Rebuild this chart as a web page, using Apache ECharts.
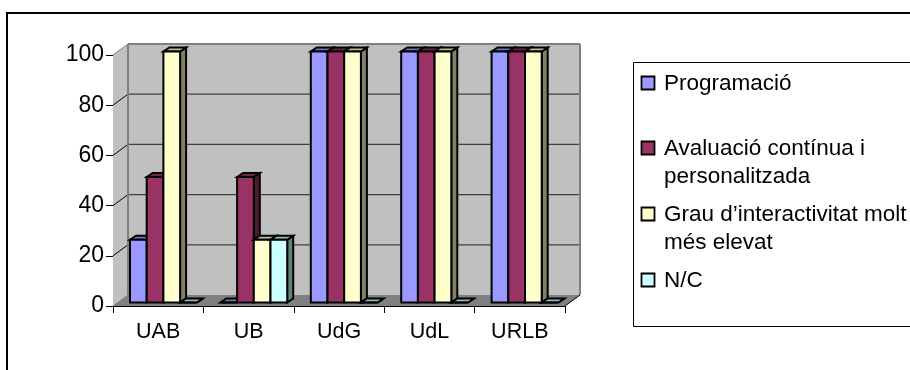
<!DOCTYPE html>
<html><head><meta charset="utf-8">
<style>html,body{margin:0;padding:0;background:#fff}#c{width:910px;height:370px}</style>
<script src="https://cdn.jsdelivr.net/npm/echarts@6/dist/echarts.min.js"></script>
</head><body><div id="c"></div>
<script>
const categories = ['UAB','UB','UdG','UdL','URLB'];
const programacio = [25,0,100,100,100];
const avaluacio = [50,50,100,100,100];
const grau = [100,25,100,100,100];
const nc = [0,25,0,0,0];
const seriesNames = ['Programació','Avaluació contínua i personalitzada','Grau d’interactivitat molt més elevat','N/C'];
const legendLabels = ['Programació','Avaluació contínua i\npersonalitzada','Grau d’interactivitat molt\nmés elevat','N/C'];
const yTicks = [0,20,40,60,80,100];
const colors = ['#9999ff','#993366','#ffffcc','#ccffff'];
const tops = ['#7070bb','#702549','#bbbb95','#95bbbb'];
const sides = ['#4d4d80','#4d1a33','#808066','#668080'];
const FONT = '"Liberation Sans", Arial, sans-serif';
const DX = 15, DY = 11;      // wall depth
const BX = 17, BY = 3.5, BW = 16.7, BDX = 6, BDY = 4; // bar placement

const chart = echarts.init(document.getElementById('c'), null, {renderer:'canvas'});

function poly(points, fill, stroke, lw){
  return {type:'polygon', shape:{points}, style:{fill, stroke:stroke||'none', lineWidth:lw||0, lineJoin:'miter'}};
}
function line(x1,y1,x2,y2,stroke,lw){
  return {type:'line', shape:{x1,y1,x2,y2}, style:{stroke, lineWidth:lw}};
}
function renderWalls(params, api){
  const s = params.coordSys;
  const xL = s.x, xR = s.x + s.width;
  const yB = api.coord([0,0])[1], yT = api.coord([0,100])[1];
  const ch = [];
  ch.push(poly([[xL,yB],[xL,yT],[xL+DX,yT-DY],[xL+DX,yB-DY]],'#c0c0c0'));
  ch.push(poly([[xL+DX,yT-DY],[xR+DX,yT-DY],[xR+DX,yB-DY],[xL+DX,yB-DY]],'#c0c0c0'));
  ch.push(poly([[xL,yB],[xL+DX,yB-DY],[xR+DX,yB-DY],[xR,yB]],'#808080'));
  yTicks.forEach(t=>{
    const y = api.coord([0,t])[1];
    if (t>0 && t<100) ch.push(line(xL+DX,y-DY,xR+DX,y-DY,'#404040',1.2));
    if (t>0) ch.push(line(xL,y,xL+DX,y-DY,t===100?'#808080':'#000',1));
  });
  ch.push(line(xL+DX,yT-DY,xL+DX,yB-DY,'#808080',2));
  ch.push(line(xL+DX,yT-DY,xR+DX,yT-DY,'#808080',2));
  ch.push(line(xR+DX,yT-DY,xR+DX,yB-DY,'#808080',2));
  ch.push(line(xL,yB,xL+DX,yB-DY,'#808080',1));
  ch.push(line(xR,yB,xR+DX,yB-DY,'#000',1));
  return {type:'group', children:ch};
}
function renderBar(sIdx){
  return function(params, api){
    const cat = api.value(0), v = api.value(1);
    const band = api.size([1,0])[0];
    const left = api.coord([cat,0])[0] - band/2 + BX + sIdx*BW;
    const yb = api.coord([cat,0])[1] - BY;
    const yt = api.coord([cat,v])[1] - BY;
    const r = left + BW;
    const st = '#000', lw = 2;
    return {type:'group', children:[
      poly([[r,yb],[r,yt],[r+BDX,yt-BDY],[r+BDX,yb-BDY]],sides[sIdx],st,lw),
      poly([[left,yt],[left+BDX,yt-BDY],[r+BDX,yt-BDY],[r,yt]],tops[sIdx],st,lw),
      poly([[left,yb],[left,yt],[r,yt],[r,yb]],colors[sIdx],st,lw)
    ]};
  };
}
const values = [programacio,avaluacio,grau,nc];
const legendRows = [83,148,214,280];
const legendG = [
  {type:'rect', shape:{x:633.5,y:62.5,width:300,height:264}, style:{fill:'#fff',stroke:'#000',lineWidth:1}}
];
legendLabels.forEach((t,i)=>{
  legendG.push({type:'rect', shape:{x:641.5,y:legendRows[i]-6.5,width:13,height:13}, style:{fill:colors[i],stroke:'#000',lineWidth:1.8}});
  legendG.push({type:'text', x:664, y:legendRows[i]-13, style:{text:t,fill:'#000',font:'22.5px '+FONT,lineHeight:28,verticalAlign:'top'}});
});
chart.setOption({
  animation:false,
  backgroundColor:'#fff',
  grid:{left:113,top:55,width:452,height:251,containLabel:false},
  xAxis:{type:'category',data:categories,boundaryGap:true,
    axisLine:{lineStyle:{color:'#000',width:1}},
    axisTick:{show:true,length:7,alignWithLabel:false,lineStyle:{color:'#000'}},
    axisLabel:{color:'#000',fontFamily:'Liberation Sans',fontSize:21.5,margin:15}},
  yAxis:{type:'value',min:0,max:100,interval:20,
    splitLine:{show:false},
    axisLine:{show:true,lineStyle:{color:'#000',width:1}},
    axisTick:{show:true,length:7,lineStyle:{color:'#000'}},
    axisLabel:{color:'#000',fontFamily:'Liberation Sans',fontSize:23,margin:9,padding:[2,0,0,0]}},
  graphic:[
    {type:'rect',silent:true,z:-1,shape:{x:7,y:13,width:1000,height:500},style:{fill:'#fff',stroke:'#000',lineWidth:2}},
    {type:'group',z:100,children:legendG}
  ],
  series:[
    {type:'custom',silent:true,z:1,renderItem:renderWalls,data:[[0,0]],clip:false},
  ].concat(values.map((arr,i)=>({
    type:'custom',name:seriesNames[i],z:2,clip:false,
    renderItem:renderBar(i),
    encode:{x:0,y:1},
    data:arr.map((v,c)=>[c,v])
  })))
});
</script></body></html>
